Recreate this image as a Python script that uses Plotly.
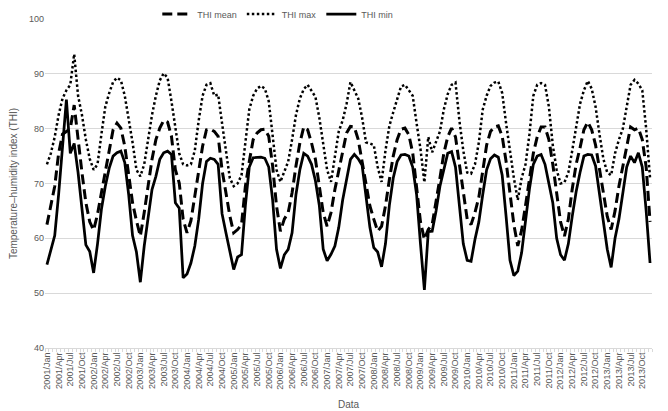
import plotly.graph_objects as go

years = list(range(2001, 2014))
month_abbr = ["Jan", "Feb", "Mar", "Apr", "May", "Jun", "Jul", "Aug", "Sep", "Oct", "Nov", "Dec"]
months = [f"{y}/{m}" for y in years for m in month_abbr]

thi_mean = [
    62.5, 66, 69.5, 75.5, 79, 79.5, 80, 84.3, 77.5, 72, 66.5, 63,
    61.5, 64.4, 68.3, 72.2, 76.2, 79.8, 81, 80.1, 76.8, 71.3, 66.5, 63.2,
    60.4, 64.7, 69.5, 74.4, 78, 80.1, 81.5, 81.2, 78.6, 72.5, 70.1, 63.5,
    61, 63.2, 67.7, 71.9, 76.8, 79.8, 79.9, 79.5, 78.6, 72.5, 68.3, 64.1,
    61, 61.6, 62.5, 69.5, 74, 78, 79.2, 79.8, 79.9, 78.6, 73.2, 65.9,
    61.3, 63.5, 64.7, 68.3, 73.2, 77.4, 80.3, 79.8, 77.4, 74.4, 69.5, 64.7,
    62.2, 64.7, 68.9, 72.5, 76.2, 79.2, 80.4, 80.3, 78, 73.8, 69.5, 65.9,
    63.5, 61.3, 62.2, 65.9, 70.7, 75, 78, 79.9, 80.1, 78.9, 75.6, 69,
    63, 59.8, 61.6, 62.5, 66.5, 71, 75.5, 78.5, 80.1, 78.5, 73.5, 68,
    63.5, 62.5, 64.7, 67.5, 72, 77, 79.5, 80.3, 80.5, 78.6, 74, 68,
    62.5, 58.6, 61.5, 66, 71, 75.5, 78.5, 80.3, 80.3, 78, 73.5, 68.5,
    63, 60.4, 63.5, 69, 73.5, 76.5, 79.8, 81.2, 79.8, 77, 72.5, 68,
    64, 61.6, 65, 69.5, 73, 76.5, 80.3, 79.8, 80.1, 78, 73, 63,
]

thi_max = [
    73.5, 75.5, 78.5, 82.5, 85.5, 87, 88, 93.6, 86, 82.5, 78, 74.5,
    72.5, 73.5, 79, 84, 86.5, 88.5, 89.3, 88.8, 86, 82, 77.5, 72.5,
    71.3, 73.5, 78, 82.5, 86, 88.8, 90.1, 89.3, 85, 80, 75.5, 73.5,
    73.3, 73.5, 76, 81.5, 86, 88, 88.3, 86, 86.2, 81, 76, 71,
    69.5, 70, 71.5, 77, 83.5, 86, 87.3, 87.8, 87.3, 85, 79, 72.5,
    70.3, 72, 74, 78, 82.5, 85.5, 87.2, 88, 87, 85.8, 82, 77.4,
    72.5, 70.3, 75, 79.5, 81.5, 84.5, 88.5, 87, 85.5, 82, 77.5, 77.3,
    77, 73, 70.3, 76, 80.5, 83, 85.5, 87.7, 88, 87, 86, 81,
    76.3, 70.2, 78.5, 75.7, 77.5, 79.5, 83.5, 86.3, 88, 88.4, 81.5, 76,
    72, 71.8, 73.5, 77.5, 83.5, 86, 87.8, 88.4, 88.6, 86.5, 81, 76,
    71, 67, 71, 73.5, 79, 86, 88, 88.3, 88, 84, 77, 72.5,
    70, 70.2, 72, 76, 80, 84.5, 87, 88.7, 87.3, 84, 79, 74.5,
    72, 71.5, 75.5, 78, 80, 84, 88, 88.9, 88.2, 87, 80, 71,
]

thi_min = [
    55.2, 58, 60.5, 68, 76, 85.3, 75.5, 77.3, 72, 65, 58.8, 57.6,
    53.7, 59, 65.3, 69.5, 72.8, 75, 75.6, 75.9, 73.8, 68, 60.5, 57.5,
    52, 58.6, 64, 68.9, 71.3, 74.4, 75.6, 75.9, 75.3, 66.5, 65.5, 52.8,
    53.5, 55.5, 58.6, 63.5, 70, 74, 74.6, 74.4, 73.5, 64.5, 61, 57.4,
    54.3, 56.6, 57, 66, 73, 74.7, 74.8, 74.8, 74.6, 73, 67, 58,
    54.5, 57, 58, 61, 68, 72.5, 75.5, 75, 73.5, 70.5, 66, 58,
    55.9, 57.1, 58.6, 62, 67, 70.7, 74.4, 75.3, 74.5, 73.3, 68, 62,
    58.3, 57.5, 54.8, 59, 66, 71, 74, 75.2, 75.3, 75, 73, 68,
    59, 50.6, 61.2, 61.3, 65, 69.5, 72.5, 75.5, 75.8, 73, 66, 59,
    56, 55.8, 59.8, 63, 68, 72.5, 74.5, 75.2, 74.8, 71.5, 64, 56,
    53.2, 54, 57.4, 63, 69, 73.5, 75, 75.3, 73.5, 70, 66.5, 60,
    57, 56, 59, 64, 68.5, 72, 75, 75.3, 75.2, 73.2, 68, 63,
    58, 54.7, 60, 63.5, 68.5, 73, 75, 73.8, 75.6, 73, 65, 55.5,
]

x_idx = list(range(len(months)))
tick_idx = x_idx[::3]
tick_labels = months[::3]

FONT = "Liberation Sans Narrow, Liberation Sans, Arial, sans-serif"
GRAY = "#595959"

fig = go.Figure()
fig.add_trace(go.Scatter(x=x_idx, y=thi_mean, name="THI mean", mode="lines",
                         line=dict(color="black", width=3, dash="10px,5px")))
fig.add_trace(go.Scatter(x=x_idx, y=thi_max, name="THI max", mode="lines",
                         line=dict(color="black", width=2.5, dash="2.5px,2.5px")))
fig.add_trace(go.Scatter(x=x_idx, y=thi_min, name="THI min", mode="lines",
                         line=dict(color="black", width=2.75)))

fig.update_layout(
    width=668, height=411,
    margin=dict(l=37, r=24, t=11, b=71, autoexpand=False),
    paper_bgcolor="white", plot_bgcolor="white",
    font=dict(family=FONT, size=9, color=GRAY),
    showlegend=True,
    legend=dict(orientation="h", x=0.185, xanchor="left", y=1.015, yanchor="middle",
                itemwidth=30, font=dict(size=9, color=GRAY), tracegroupgap=0,
                bgcolor="rgba(0,0,0,0)"),
    xaxis=dict(
        range=[-0.5, len(months) - 0.5],
        tickmode="array", tickvals=tick_idx, ticktext=tick_labels,
        tickangle=-90, ticks="", showgrid=False, zeroline=False,
        showline=True, linecolor="#d9d9d9", linewidth=1,
        minor=dict(ticks="outside", tick0=-0.5, dtick=1, ticklen=3,
                   tickcolor="#d9d9d9", showgrid=False),
        tickfont=dict(size=9, color=GRAY),
        title=dict(text="Data", font=dict(size=10, color=GRAY), standoff=12),
    ),
    yaxis=dict(
        range=[40, 100], dtick=10, showgrid=True, gridcolor="#d9d9d9", gridwidth=1,
        zeroline=False, showline=False, ticks="",
        tickfont=dict(size=9, color=GRAY),
        title=dict(text="Temperature\u2013humidity index (THI)", font=dict(size=10, color=GRAY), standoff=10),
    ),
)

fig.write_html("out.html")
